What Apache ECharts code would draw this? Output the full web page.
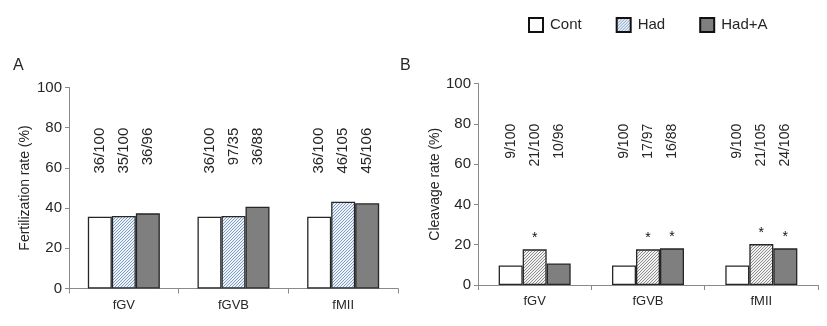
<!DOCTYPE html>
<html>
<head>
<meta charset="utf-8">
<script src="https://cdn.jsdelivr.net/npm/echarts@6/dist/echarts.min.js"></script>
<style>html,body{margin:0;padding:0;background:#fff;}#c{width:827px;height:326px;}</style>
</head>
<body>
<div id="c"></div>
<script>
// ---- data ----
const categories = ['fGV', 'fGVB', 'fMII'];
const seriesNames = ['Cont', 'Had', 'Had+A'];
// Panel A: fertilization rate (%)
const fertCont = [35.7, 35.7, 35.7];
const fertHad = [36.1, 36.1, 43.2];
const fertHadA = [37.4, 40.7, 42.4];
const fertLabelsCont = ['36/100', '36/100', '36/100'];
const fertLabelsHad = ['35/100', '97/35', '46/105'];
const fertLabelsHadA = ['36/96', '36/88', '45/106'];
// Panel B: cleavage rate (%)
const cleavCont = [9.7, 9.7, 9.7];
const cleavHad = [17.7, 17.7, 20.3];
const cleavHadA = [10.7, 18.2, 18.2];
const cleavLabelsCont = ['9/100', '9/100', '9/100'];
const cleavLabelsHad = ['21/100', '17/97', '21/105'];
const cleavLabelsHadA = ['10/96', '16/88', '24/106'];
const sigHad = [true, true, true];
const sigHadA = [false, true, true];
const labelAnchor = 80; // value at which the n/N labels end
const yTicks = [0, 20, 40, 60, 80, 100];

function hatch(base, stripe) {
  const s = 6;
  const cv = document.createElement('canvas');
  cv.width = s; cv.height = s;
  const g = cv.getContext('2d');
  g.fillStyle = base; g.fillRect(0, 0, s, s);
  g.strokeStyle = stripe; g.lineWidth = 1;
  for (let k = -s; k <= 2 * s; k += 3) {
    g.beginPath(); g.moveTo(k, s); g.lineTo(k + s, 0); g.stroke();
  }
  return { image: cv, repeat: 'repeat' };
}
const hatchBlue = hatch('#eef3fa', '#7f9cc4');
const hatchGrey = hatch('#f2f2f2', '#8c8c8c');

const FONT = 'Liberation Sans, Arial, sans-serif';
const axisGrey = '#8a8a8a';
const textCol = '#262626';
const border = { borderColor: '#262626', borderWidth: 1.3 };

function xAx(grid, show, fs) {
  return {
    type: 'category', data: categories, gridIndex: grid, show: show,
    axisLine: { lineStyle: { color: axisGrey } },
    axisTick: { show: true, length: 5, lineStyle: { color: axisGrey } },
    axisLabel: { color: textCol, fontSize: fs, fontFamily: FONT, margin: 10 }
  };
}
function yAx(grid, name, fs, gap) {
  return {
    type: 'value', gridIndex: grid, min: 0, max: 100, interval: 20,
    name: name, nameLocation: 'middle', nameGap: gap,
    nameTextStyle: { color: textCol, fontSize: fs - 1, fontFamily: FONT },
    axisLine: { show: true, lineStyle: { color: axisGrey } },
    axisTick: { show: true, length: 4, lineStyle: { color: axisGrey } },
    splitLine: { show: false },
    axisLabel: { color: textCol, fontSize: fs, fontFamily: FONT, margin: 7,
      formatter: v => yTicks.includes(v) ? String(v) : '' }
  };
}
function barSeries(name, data, x, y, color, sig) {
  return {
    name: name, type: 'bar', xAxisIndex: x, yAxisIndex: y, barWidth: 24, barGap: '0%',
    itemStyle: Object.assign({ color: color }, border),
    data: data.map((v, i) => ({
      value: v,
      label: { show: !!(sig && sig[i]), position: 'top', distance: 4, formatter: '*',
        color: '#111', fontSize: 14, fontFamily: FONT }
    })),
    silent: true
  };
}
function labelSeries(labels, x, y, fs) {
  return {
    name: 'lbl', type: 'bar', xAxisIndex: x, yAxisIndex: y, barWidth: 24, barGap: '0%',
    itemStyle: { color: 'rgba(0,0,0,0)' }, silent: true,
    data: labels.map(t => ({ value: labelAnchor, label: { formatter: t } })),
    label: { show: true, position: 'top', distance: 0, rotate: 90, align: 'right',
      verticalAlign: 'middle', color: textCol, fontSize: fs, fontFamily: FONT }
  };
}

const chart = echarts.init(document.getElementById('c'), null, { renderer: 'canvas' });
chart.setOption({
  animation: false,
  backgroundColor: '#fff',
  legend: {
    data: seriesNames, left: 523, top: 12, itemWidth: 14, itemHeight: 14, itemGap: 34,
    icon: 'rect',
    itemStyle: { borderColor: '#111', borderWidth: 2 },
    textStyle: { color: textCol, fontSize: 15, fontFamily: FONT, padding: [0, 0, 0, 2] },
    selectedMode: false
  },
  title: [
    { text: 'A', left: 8, top: 53, textStyle: { fontSize: 16, fontWeight: 'normal', color: textCol, fontFamily: FONT } },
    { text: 'B', left: 395, top: 53, textStyle: { fontSize: 16, fontWeight: 'normal', color: textCol, fontFamily: FONT } }
  ],
  grid: [
    { left: 69, right: 429, top: 87.5, bottom: 37.5 },
    { left: 478, right: 9, top: 83.5, bottom: 41 }
  ],
  xAxis: [xAx(0, true, 13), xAx(0, false, 13), xAx(1, true, 13), xAx(1, false, 13)],
  yAxis: [yAx(0, 'Fertilization rate (%)', 15, 37), yAx(1, 'Cleavage rate (%)', 15, 36)],
  series: [
    barSeries('Cont', fertCont, 0, 0, '#ffffff'),
    barSeries('Had', fertHad, 0, 0, hatchBlue),
    barSeries('Had+A', fertHadA, 0, 0, '#7f7f7f'),
    labelSeries(fertLabelsCont, 1, 0, 15),
    labelSeries(fertLabelsHad, 1, 0, 15),
    labelSeries(fertLabelsHadA, 1, 0, 15),
    barSeries('Cont', cleavCont, 2, 1, '#ffffff'),
    barSeries('Had', cleavHad, 2, 1, hatchGrey, sigHad),
    barSeries('Had+A', cleavHadA, 2, 1, '#7f7f7f', sigHadA),
    labelSeries(cleavLabelsCont, 3, 1, 14),
    labelSeries(cleavLabelsHad, 3, 1, 14),
    labelSeries(cleavLabelsHadA, 3, 1, 14)
  ]
});
</script>
</body>
</html>
